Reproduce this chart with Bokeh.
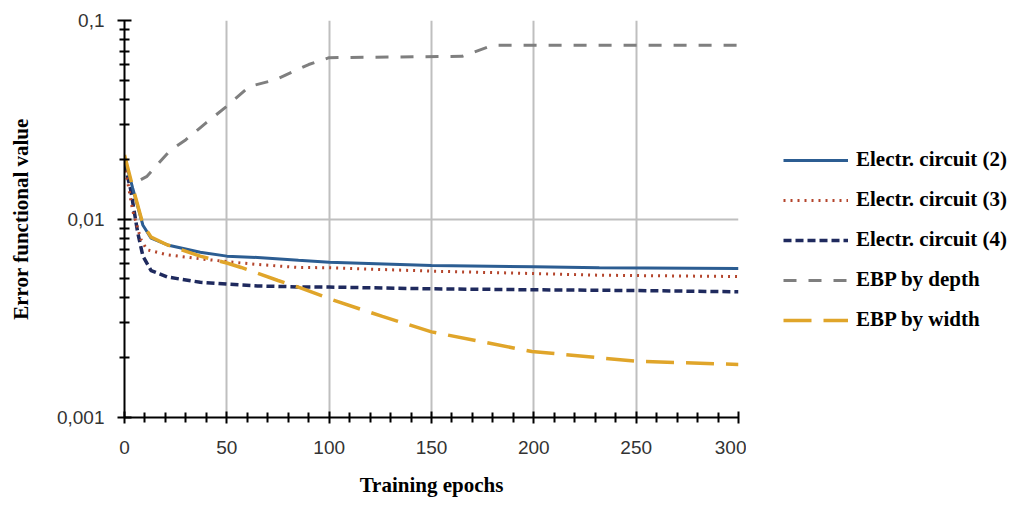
from bokeh.plotting import figure
from bokeh.layouts import row
from bokeh.models import (Range1d, FixedTicker, CustomJSTickFormatter, Legend, LegendItem)
from bokeh.embed import file_html
from bokeh.resources import INLINE

# ---- data ----
x_ticks = [0, 50, 100, 150, 200, 250, 300]
x_minor = [10, 20, 30, 40, 60, 70, 80, 90, 110, 120, 130, 140, 160, 170, 180, 190,
           210, 220, 230, 240, 260, 270, 280, 290]
y_ticks = [0.001, 0.01, 0.1]
y_minor = [0.002, 0.003, 0.004, 0.005, 0.006, 0.007, 0.008, 0.009,
           0.02, 0.03, 0.04, 0.05, 0.06, 0.07, 0.08, 0.09]

ep_c2 = [0, 4, 9, 13, 21, 37, 50, 65, 85, 100, 150, 200, 232, 300]
circuit2 = [0.0204, 0.0143, 0.0093, 0.0080, 0.0074, 0.0068, 0.0065, 0.0064,
            0.0062, 0.00606, 0.00583, 0.00574, 0.00568, 0.00563]

ep_c3 = [0, 4, 8, 11, 21, 37, 50, 65, 85, 100, 150, 200, 232, 300]
circuit3 = [0.0190, 0.0110, 0.0079, 0.0070, 0.0066, 0.0063, 0.0061, 0.0059,
            0.0057, 0.00568, 0.00546, 0.00531, 0.00521, 0.00513]

ep_c4 = [0, 3, 6.4, 9, 13, 21, 37, 50, 65, 85, 100, 150, 200, 250, 300]
circuit4 = [0.0190, 0.0141, 0.0086, 0.0065, 0.0055, 0.0051, 0.0048, 0.0047, 0.0046,
            0.00455, 0.00454, 0.00445, 0.0044, 0.00436, 0.0043]

ep_depth = [8, 11, 22, 30, 40, 50, 61, 74, 90, 100, 165, 180, 300]
ebp_depth = [0.0158, 0.0164, 0.022, 0.0251, 0.0306, 0.037, 0.0465, 0.0504,
             0.060, 0.065, 0.066, 0.075, 0.075]

ep_width = [0, 4, 9, 13, 21, 37, 50, 57, 75, 86, 102, 126, 150, 199, 232, 250, 300]
ebp_width = [0.021, 0.0145, 0.0094, 0.0081, 0.0074, 0.0065, 0.0060, 0.0057, 0.0049,
             0.0045, 0.0039, 0.00323, 0.0027, 0.00215, 0.0020, 0.00192, 0.00185]

labels = ["Electr. circuit (2)", "Electr. circuit (3)", "Electr. circuit (4)",
          "EBP by depth", "EBP by width"]

series = [(ep_c2, circuit2), (ep_c3, circuit3), (ep_c4, circuit4),
          (ep_depth, ebp_depth), (ep_width, ebp_width)]

styles = [dict(line_color="#2c5d92", line_width=3),
          dict(line_color="#b4452c", line_width=3, line_dash="2 5"),
          dict(line_color="#1f2a5e", line_width=3.5, line_dash="8 4"),
          dict(line_color="#7f7f7f", line_width=3, line_dash="13 12"),
          dict(line_color="#e0a52a", line_width=3.5, line_dash="28 12")]

# ---- main figure ----
p = figure(frame_width=614, frame_height=397, y_axis_type="log",
           x_range=Range1d(0, 300), y_range=Range1d(0.001, 0.1),
           output_backend="svg", toolbar_location=None,
           min_border_left=124, min_border_right=8,
           min_border_top=20, min_border_bottom=88)
p.outline_line_color = None

p.xaxis.ticker = FixedTicker(ticks=x_ticks, minor_ticks=x_minor)
p.yaxis.ticker = FixedTicker(ticks=y_ticks, minor_ticks=y_minor)
p.yaxis.formatter = CustomJSTickFormatter(code="""
    const e = Math.round(Math.log10(tick));
    return '0,' + '0'.repeat(-e - 1) + '1';
""")

for ax in (p.xaxis[0], p.yaxis[0]):
    ax.axis_line_color = "black"
    ax.axis_line_width = 2
    ax.major_tick_line_color = "black"
    ax.major_tick_line_width = 2
    ax.minor_tick_line_color = "black"
    ax.minor_tick_line_width = 2
    ax.major_label_text_font = "Liberation Sans"
    ax.major_label_text_font_size = "19px"
    ax.major_label_text_color = "#333333"
    ax.axis_label_text_font = "Liberation Serif"
    ax.axis_label_text_font_style = "bold"
    ax.axis_label_text_font_size = "21px"
    ax.axis_label_text_color = "black"

p.xaxis.axis_label = "Training epochs"
p.xaxis.major_tick_in = 6
p.xaxis.major_tick_out = 6
p.xaxis.minor_tick_in = 5
p.xaxis.minor_tick_out = 5
p.xaxis.major_label_standoff = 17
p.xaxis.axis_label_standoff = 16

p.yaxis.axis_label = "Error functional value"
p.yaxis.major_tick_in = 7
p.yaxis.major_tick_out = 7
p.yaxis.minor_tick_in = 5
p.yaxis.minor_tick_out = 5
p.yaxis.major_label_standoff = 13
p.yaxis.axis_label_standoff = 21

p.xgrid.grid_line_color = "#bfbfbf"
p.xgrid.grid_line_width = 2
p.ygrid.grid_line_color = "#bfbfbf"
p.ygrid.grid_line_width = 2

for i in (3, 2, 1, 0, 4):
    xs, ys = series[i]
    p.line(xs, ys, **styles[i])

# ---- legend panel (second figure to the right, same series, range kept empty) ----
q = figure(width=266, height=20 + 397 + 88, output_backend="svg",
           toolbar_location=None, x_range=Range1d(-2, -1), y_range=Range1d(-2, -1),
           min_border_left=0, min_border_right=0, min_border_top=0,
           min_border_bottom=0)
q.axis.visible = False
q.grid.visible = False
q.outline_line_color = None

items = []
for lab, (xs, ys), st in zip(labels, series, styles):
    r = q.line(xs, ys, **st)
    items.append(LegendItem(label=lab, renderers=[r]))

legend = Legend(items=items, location=(37, 85))
legend.border_line_color = None
legend.background_fill_alpha = 0
legend.label_text_font = "Liberation Serif"
legend.label_text_font_style = "bold"
legend.label_text_font_size = "21px"
legend.label_text_color = "black"
legend.glyph_width = 65
legend.glyph_height = 20
legend.label_height = 20
legend.spacing = 15
legend.label_standoff = 8
legend.padding = 10
legend.margin = 0
q.add_layout(legend, "center")

layout = row(p, q)
open("out.html", "w").write(file_html(layout, INLINE))
